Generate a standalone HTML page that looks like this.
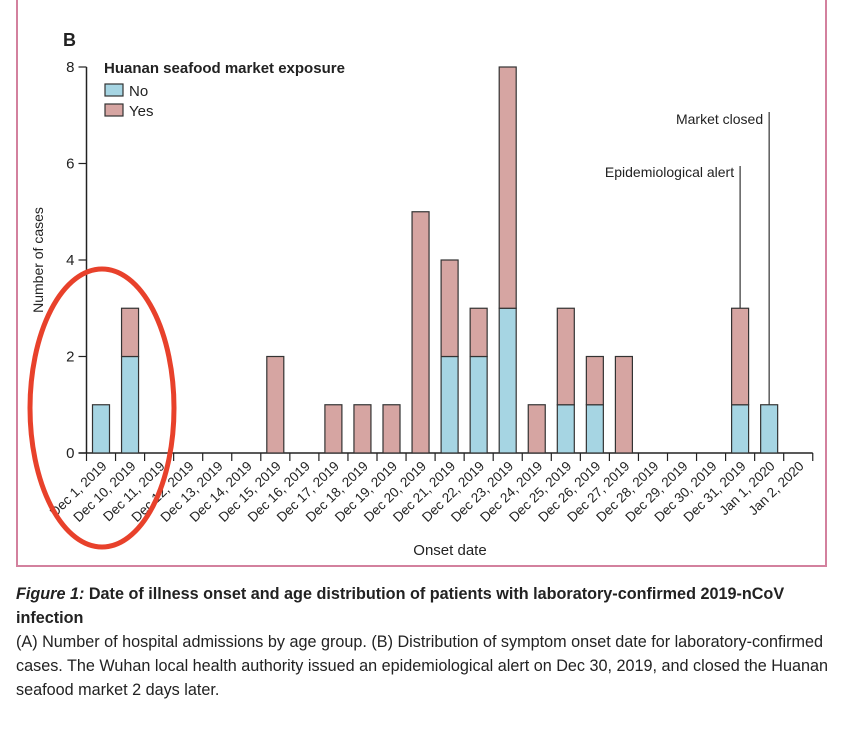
<!DOCTYPE html>
<html><head><meta charset="utf-8"><style>
body{margin:0;background:#fff;width:844px;height:736px;overflow:hidden;font-family:"Liberation Sans",sans-serif;}
#frame{position:absolute;left:16px;top:-5px;width:811px;height:572px;border:2px solid #d3819e;box-sizing:border-box;}
#cap{position:absolute;left:16px;top:582px;width:828px;font-size:16.2px;line-height:24px;color:#222;white-space:nowrap;}
</style></head><body>
<div id="frame"></div>
<svg id="chart" width="844" height="580" style="position:absolute;left:0;top:0" font-family="Liberation Sans, sans-serif"></svg>
<div id="cap"><b><i>Figure 1:</i> Date of illness onset and age distribution of patients with laboratory-confirmed 2019-nCoV<br>infection</b><br>(A) Number of hospital admissions by age group. (B) Distribution of symptom onset date for laboratory-confirmed<br>cases. The Wuhan local health authority issued an epidemiological alert on Dec 30, 2019, and closed the Huanan<br>seafood market 2 days later.</div>
<script>
const categories=["Dec 1, 2019","Dec 10, 2019","Dec 11, 2019","Dec 12, 2019","Dec 13, 2019","Dec 14, 2019","Dec 15, 2019","Dec 16, 2019","Dec 17, 2019","Dec 18, 2019","Dec 19, 2019","Dec 20, 2019","Dec 21, 2019","Dec 22, 2019","Dec 23, 2019","Dec 24, 2019","Dec 25, 2019","Dec 26, 2019","Dec 27, 2019","Dec 28, 2019","Dec 29, 2019","Dec 30, 2019","Dec 31, 2019","Jan 1, 2020","Jan 2, 2020"];
const noValues=[1,2,0,0,0,0,0,0,0,0,0,0,2,2,3,0,1,1,0,0,0,0,1,1,0];
const yesValues=[0,1,0,0,0,0,2,0,1,1,1,5,2,1,5,1,2,1,2,0,0,0,2,0,0];
const yTicks=[0,2,4,6,8];
const svg=document.getElementById('chart');const NS='http://www.w3.org/2000/svg';
function mk(t,a,txt){const e=document.createElementNS(NS,t);for(const k in a)e.setAttribute(k,a[k]);if(txt!==undefined)e.textContent=txt;svg.appendChild(e);return e;}
const x0=86.5,step=29.05,y0=453,yMax=8,yTop=67;
const xs=i=>x0+i*step;const ys=v=>y0-(v/yMax)*(y0-yTop);
let e=mk('text',{x:63,y:46,'font-size':18,'font-weight':'bold',fill:'#222'},'B');

e=mk('line',{x1:x0,y1:ys(8),x2:x0,y2:y0,stroke:'#222','stroke-width':1.5});

e=mk('line',{x1:x0-8,y1:y0,x2:xs(categories.length),y2:y0,stroke:'#222','stroke-width':1.5});

yTicks.forEach(t=>{
 e=mk('line',{x1:x0-8,y1:ys(t),x2:x0,y2:ys(t),stroke:'#222','stroke-width':1.2});
 
 e=mk('text',{x:x0-12,y:ys(t)+5,'font-size':15,'text-anchor':'end',fill:'#222'},t);
 
});
for(let i=0;i<=categories.length;i++){
 e=mk('line',{x1:xs(i),y1:y0,x2:xs(i),y2:y0+8,stroke:'#222','stroke-width':1.2});
 
}
categories.forEach((c,i)=>{
 const tx=xs(i)+21,ty=y0+14;
 e=mk('text',{x:tx,y:ty,'font-size':13.5,'text-anchor':'end',fill:'#222',transform:`rotate(-44 ${tx} ${ty})`},c);
 
 const bx=xs(i)+6,bw=17;
 if(noValues[i]>0){e=mk('rect',{x:bx,y:ys(noValues[i]),width:bw,height:y0-ys(noValues[i]),fill:'#a6d5e3',stroke:'#333','stroke-width':1.2});
 }
 if(yesValues[i]>0){const b=noValues[i],t=b+yesValues[i];e=mk('rect',{x:bx,y:ys(t),width:bw,height:ys(b)-ys(t),fill:'#d6a5a2',stroke:'#333','stroke-width':1.2});
 }
});
const ai=categories.indexOf("Dec 31, 2019"),mi=categories.indexOf("Jan 1, 2020");
const ax=xs(ai)+14.5,mx=xs(mi)+14.5;
e=mk('line',{x1:ax,y1:166,x2:ax,y2:ys(noValues[ai]+yesValues[ai]),stroke:'#333','stroke-width':1.2});

e=mk('text',{x:ax-6,y:177,'font-size':14,'text-anchor':'end',fill:'#222'},'Epidemiological alert');

e=mk('line',{x1:mx,y1:112,x2:mx,y2:ys(noValues[mi]+yesValues[mi]),stroke:'#333','stroke-width':1.2});

e=mk('text',{x:mx-6,y:124,'font-size':14,'text-anchor':'end',fill:'#222'},'Market closed');

e=mk('text',{x:104,y:73,'font-size':15,'font-weight':'bold',fill:'#222'},'Huanan seafood market exposure');

[['No','#a6d5e3',84],['Yes','#d6a5a2',104]].forEach(([l,c,y])=>{
 e=mk('rect',{x:105,y:y,width:18,height:12,fill:c,stroke:'#333','stroke-width':1.2});
 
 e=mk('text',{x:129,y:y+12,'font-size':15,fill:'#222'},l);
 
});
e=mk('text',{x:43,y:260,'font-size':14,'text-anchor':'middle',fill:'#222',transform:'rotate(-90 43 260)'},'Number of cases');

e=mk('text',{x:450,y:555,'font-size':15,'text-anchor':'middle',fill:'#222'},'Onset date');

e=mk('ellipse',{cx:102,cy:408,rx:72,ry:139,fill:'none',stroke:'#e8412b','stroke-width':5});

</script>
</body></html>
